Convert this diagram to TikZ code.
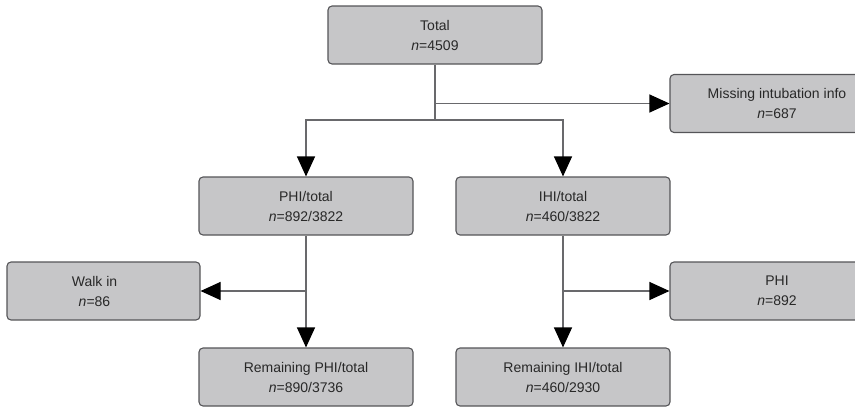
\documentclass[tikz,border=0pt]{standalone}
\usepackage{fontspec}
\setmainfont{Liberation Sans}
\usetikzlibrary{arrows.meta}
\definecolor{boxfill}{RGB}{198,198,200}
\definecolor{boxline}{RGB}{85,85,88}
\definecolor{lineclr}{RGB}{105,105,108}
\definecolor{txt}{RGB}{40,40,40}
\begin{document}
\begin{tikzpicture}[x=1pt,y=-1pt,
  box/.style={draw=boxline, fill=boxfill, rounded corners=4pt, minimum width=214pt,
    minimum height=58pt, align=center, text=txt, font=\fontsize{14}{20}\selectfont,
    line width=1.1pt, inner sep=0pt},
  conn/.style={draw=lineclr, line width=1.1pt},
  arr/.style={conn, -{Triangle[length=20pt,width=18pt,color=black]}}]
\useasboundingbox (0,0) rectangle (855,407);
\node[box] (total) at (435,35) {Total\\\textit{n}=4509};
\node[box] (miss) at (777,103.5) {Missing intubation info\\\textit{n}=687};
\node[box] (phit) at (306,206) {PHI/total\\\textit{n}=892/3822};
\node[box] (ihit) at (563,206) {IHI/total\\\textit{n}=460/3822};
\node[box, minimum width=193pt,
  label={[font=\fontsize{14}{20}\selectfont, text=txt, align=center, xshift=-9pt]center:{Walk in\\\textit{n}=86}}] (walk) at (103.5,291) {};
\node[box] (phi) at (777,291) {PHI\\\textit{n}=892};
\node[box] (remphi) at (306,377) {Remaining PHI/total\\\textit{n}=890/3736};
\node[box] (remihi) at (563,377) {Remaining IHI/total\\\textit{n}=460/2930};
\coordinate (j1) at (435,120);
\coordinate (j2) at (435,103.5);
\coordinate (j3) at (phit.south |- walk.east);
\coordinate (j4) at (ihit.south |- phi.west);
\draw[conn] (total.south) -- (j1);
\draw[arr] (j2) -- (miss.west);
\draw[arr] (j1) -| (phit.north);
\draw[arr] (j1) -| (ihit.north);
\draw[arr] (phit.south) -- (remphi.north);
\draw[arr] (j3) -- (walk.east);
\draw[arr] (ihit.south) -- (remihi.north);
\draw[arr] (j4) -- (phi.west);
\end{tikzpicture}
\end{document}
